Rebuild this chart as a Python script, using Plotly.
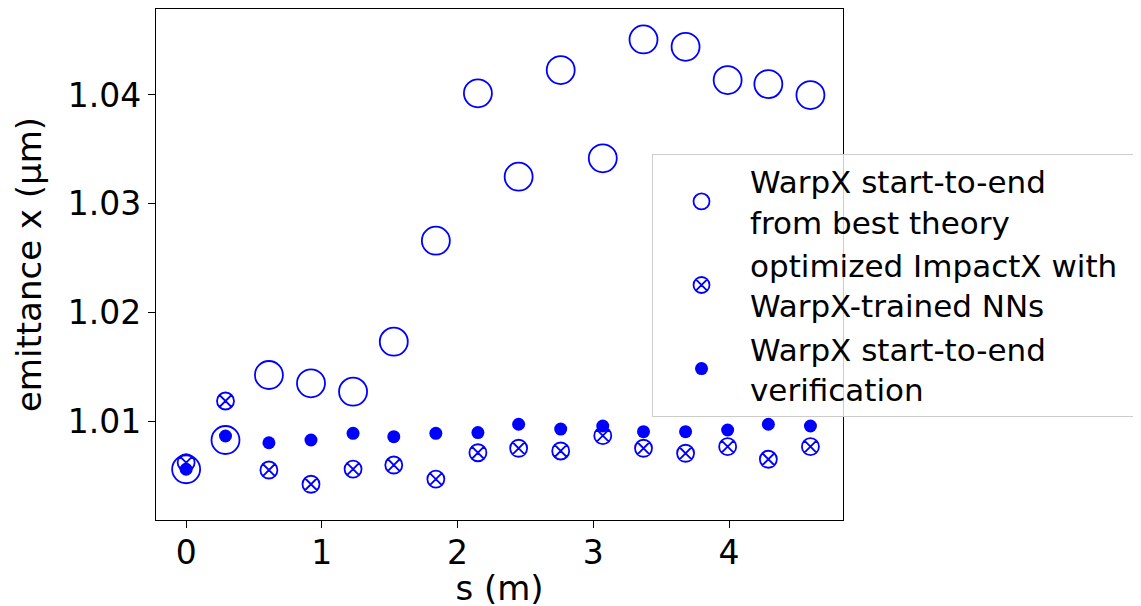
import plotly.graph_objects as go

s_m = [0, 0.29, 0.61, 0.92, 1.23, 1.53, 1.84, 2.15, 2.45, 2.76, 3.07, 3.37, 3.68, 3.99, 4.29, 4.6]
theory = [1.00556, 1.00825, 1.01423, 1.01347, 1.0127, 1.0173, 1.02659, 1.04015,
          1.03248, 1.04229, 1.03417, 1.04511, 1.04443, 1.04137, 1.041, 1.03999]
impactx = [1.00617, 1.01184, 1.00549, 1.00418, 1.00558, 1.00595, 1.00466, 1.00708,
           1.00749, 1.00724, 1.00865, 1.00749, 1.00703, 1.00764, 1.00648, 1.00764]
verify = [1.00556, 1.00862, 1.0080, 1.00825, 1.00887, 1.00856, 1.00887, 1.00893,
          1.0097, 1.00926, 1.00954, 1.00902, 1.00902, 1.00917, 1.0097, 1.00954]

names = ["WarpX start-to-end<br>from best theory",
         "optimized ImpactX with\u00a0\u00a0<br>WarpX-trained NNs",
         "WarpX start-to-end<br>verification"]
y_ticks = [1.01, 1.02, 1.03, 1.04]
y_tick_labels = ["1.01", "1.02", "1.03", "1.04"]
x_ticks = [0, 1, 2, 3, 4]

FONT = "DejaVu Sans"
BLUE = "#0000ff"

fig = go.Figure()
fig.add_trace(go.Scatter(x=s_m, y=theory, mode="markers", name=names[0],
                         marker=dict(symbol="circle-open", size=28, color=BLUE,
                                     line=dict(width=1.8, color=BLUE))))
fig.add_trace(go.Scatter(x=s_m, y=impactx, mode="markers", name=names[1],
                         marker=dict(symbol="circle-x-open", size=17, color=BLUE,
                                     line=dict(width=1.8, color=BLUE))))
fig.add_trace(go.Scatter(x=s_m, y=verify, mode="markers", name=names[2],
                         marker=dict(symbol="circle", size=13, color=BLUE,
                                     line=dict(width=0))))

# page body has an 8px default margin, so the figure is sized to fit the window
fig.update_layout(
    width=1133, height=600,
    margin=dict(l=148, r=298, t=1, b=88, autoexpand=False),
    paper_bgcolor="white", plot_bgcolor="white",
    font=dict(family=FONT, size=33, color="black"),
    showlegend=True,
    legend=dict(x=0.722, y=0.717, xanchor="left", yanchor="top",
                bgcolor="rgba(255,255,255,0.8)", bordercolor="#cccccc", borderwidth=1,
                font=dict(family=FONT, size=31, color="black"),
                itemwidth=87, valign="middle"),
)
fig.update_xaxes(range=[-0.222, 4.84], tickvals=x_ticks, ticks="outside", ticklen=7,
                 tickwidth=1.3, tickcolor="black", showline=True, linecolor="black",
                 linewidth=1.3, mirror=True, showgrid=False, zeroline=False,
                 automargin=True, tickfont=dict(size=33), ticklabelstandoff=-4,
                 title=dict(text="s (m)", standoff=8, font=dict(size=34)))
fig.update_yaxes(range=[1.00089, 1.04791], tickvals=y_ticks, ticktext=y_tick_labels,
                 ticks="outside", ticklen=7, tickwidth=1.3, tickcolor="black",
                 showline=True, linecolor="black", linewidth=1.3, mirror=True,
                 showgrid=False, zeroline=False, automargin=False, tickfont=dict(size=33),
                 title=dict(text="emittance x (μm)", font=dict(size=34)))

fig.write_html("out.html")
